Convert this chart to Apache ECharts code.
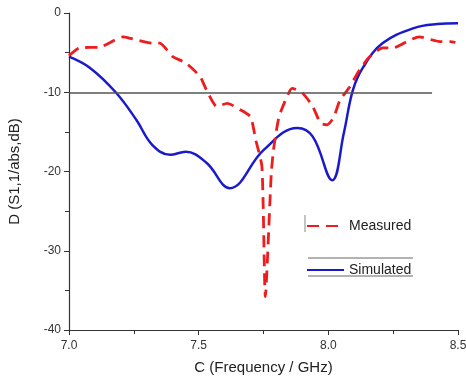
<!DOCTYPE html>
<html>
<head>
<meta charset="utf-8">
<script src="https://cdn.jsdelivr.net/npm/echarts@6/dist/echarts.min.js"></script>
<style>
  html, body { margin: 0; padding: 0; background: #fff; }
  #chart { width: 466px; height: 380px; }
</style>
</head>
<body>
<div id="chart"></div>
<script>
// Simulated (blue, solid)
var simFreq = [7.0, 7.08, 7.18, 7.26, 7.32, 7.39, 7.45, 7.53, 7.62, 7.75, 7.88, 7.94, 8.015, 8.06, 8.095, 8.135, 8.21, 8.33, 8.42, 8.5]
var simVal  = [-5.5, -6.9, -10.0, -13.5, -16.6, -17.9, -17.5, -18.9, -22.1, -17.3, -14.5, -15.6, -21.1, -15.1, -9.7, -6.8, -3.8, -1.9, -1.4, -1.3]

// Measured (red, dashed)
var measFreq = [7.0, 7.04, 7.12, 7.21, 7.26, 7.32, 7.35, 7.40, 7.45, 7.505, 7.53, 7.57, 7.61, 7.66, 7.70, 7.72, 7.744, 7.757, 7.78, 7.79, 7.81, 7.84, 7.86, 7.90, 7.94, 7.97, 7.995, 8.02, 8.045, 8.083, 8.12, 8.16, 8.21, 8.25, 8.315, 8.35, 8.43, 8.47, 8.49]
var measVal  = [-5.4, -4.4, -4.3, -3.0, -3.4, -3.8, -3.8, -5.5, -6.3, -8.0, -9.7, -11.8, -11.4, -12.2, -13.1, -16.0, -19.4, -35.8, -20.2, -16.9, -13.1, -10.6, -9.5, -10.1, -11.8, -13.9, -14.1, -13.2, -11.0, -9.3, -7.2, -5.5, -4.4, -4.4, -3.4, -3.0, -3.6, -3.6, -3.7]

// -10 dB reference line
var refLevel = -10
var refFrom = 7.0
var refTo = 8.4

var seriesNames = ['Measured', 'Simulated']

function pairs(xs, ys) {
  var out = []
  for (var i = 0; i < xs.length; i++) out.push([xs[i], ys[i]])
  return out
}

var myChart = echarts.init(document.getElementById('chart'))
var font = 'Liberation Sans, Arial, sans-serif'
var option = {
  backgroundColor: '#fff',
  animation: false,
  grid: { left: 69, right: 8, top: 13, bottom: 50, containLabel: false, outerBoundsMode: 'none' },
  legend: {
    orient: 'vertical',
    left: 301,
    top: 214,
    itemWidth: 37,
    itemHeight: 14,
    itemGap: 30,
    data: seriesNames,
    itemStyle: { opacity: 0 },
    textStyle: { fontFamily: font, fontSize: 14, color: '#222' }
  },
  xAxis: {
    type: 'value',
    min: 7.0,
    max: 8.5,
    interval: 0.5,
    name: 'C (Frequency / GHz)',
    nameLocation: 'middle',
    nameGap: 30,
    nameTextStyle: { fontFamily: font, fontSize: 15, color: '#222' },
    axisLine: { onZero: false, lineStyle: { color: '#333', width: 1.2 } },
    axisTick: { length: 5, lineStyle: { color: '#333' } },
    minorTick: { show: true, splitNumber: 2, length: 4, lineStyle: { color: '#333' } },
    splitLine: { show: false },
    axisLabel: {
      fontFamily: font, fontSize: 12, color: '#333', margin: 10,
      formatter: function (v) { return v.toFixed(1) }
    }
  },
  yAxis: {
    type: 'value',
    min: -40,
    max: 0,
    interval: 10,
    name: 'D (S1,1/abs,dB)',
    nameLocation: 'middle',
    nameGap: 47,
    nameTextStyle: { fontFamily: font, fontSize: 15, color: '#222' },
    axisLine: { show: true, onZero: false, lineStyle: { color: '#333', width: 1.2 } },
    axisTick: { show: true, length: 5, lineStyle: { color: '#333' } },
    minorTick: { show: true, splitNumber: 2, length: 4, lineStyle: { color: '#333' } },
    splitLine: { show: false },
    axisLabel: { fontFamily: font, fontSize: 12, color: '#333' }
  },
  series: [
    {
      name: 'Measured',
      type: 'line',
      smooth: 0.2,
      symbol: 'none',
      color: '#ee1c1c',
      lineStyle: { width: 2.8, type: [12, 7], color: '#ee1c1c' },
      data: pairs(measFreq, measVal),
      z: 3
    },
    {
      name: 'Simulated',
      type: 'line',
      smooth: 0.4,
      symbol: 'none',
      color: '#1a1acc',
      lineStyle: { width: 2.5, color: '#1a1acc' },
      data: pairs(simFreq, simVal),
      z: 2,
      markLine: {
        silent: true,
        symbol: 'none',
        label: { show: false },
        lineStyle: { color: '#555', width: 1.5, type: 'solid' },
        data: [[{ coord: [refFrom, refLevel] }, { coord: [refTo, refLevel] }]]
      }
    }
  ],
  graphic: [
    { type: 'line', shape: { x1: 308, y1: 258, x2: 413, y2: 258 }, style: { stroke: '#666', lineWidth: 1 } },
    { type: 'line', shape: { x1: 308, y1: 276, x2: 413, y2: 276 }, style: { stroke: '#666', lineWidth: 1 } },
    { type: 'line', shape: { x1: 305, y1: 215, x2: 305, y2: 232 }, style: { stroke: '#888', lineWidth: 1 } }
  ]
}
myChart.setOption(option)
</script>
</body>
</html>
